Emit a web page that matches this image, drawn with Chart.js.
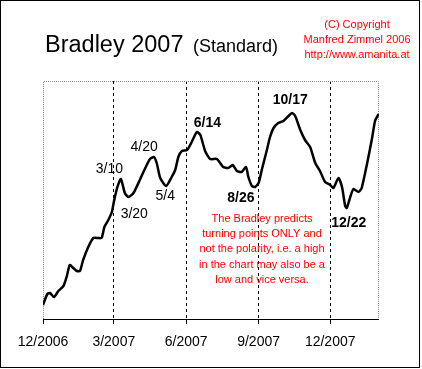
<!DOCTYPE html>
<html>
<head>
<meta charset="utf-8">
<script src="https://cdn.jsdelivr.net/npm/chart.js@4/dist/chart.umd.min.js"></script>
<style>
  html, body { margin: 0; padding: 0; background: #fff; }
  canvas { display: block; }
</style>
</head>
<body>
<canvas id="chart" width="422" height="369"></canvas>
<script>
// Bradley siderograph 2007 - x = days after 1 Dec 2006, y = index
const days = [0, 5.5, 9, 14, 19.5, 26, 30, 34, 38.5, 43, 47, 51, 57.5, 64, 70, 74.5, 78, 83, 87.5, 90,
  94.5, 99, 104, 108.5, 115, 123, 130, 136, 141, 144.5, 149, 156.5, 163.5, 168, 172, 176.5, 183, 189,
  195.5, 200, 206, 212.5, 221, 229, 235.5, 241, 246.5, 252.5, 258, 261, 265.5, 269.5, 274, 278, 284.5,
  288.5, 293, 299, 305.5, 312, 316.5, 320.5, 327, 333, 339.5, 346, 352, 358.5, 365, 369, 375.5, 380,
  384, 386, 390.5, 394.5, 401, 405, 411.5, 418, 422, 426.5];
const values = [14, 25, 26, 22, 28, 33, 42, 54, 51, 48, 48, 59, 72, 81, 81, 81, 92, 99, 107, 117,
  132, 140, 126, 122, 126, 139, 151, 160, 162, 156, 141, 133, 142, 149, 162, 168, 169, 177,
  187, 184, 168, 160, 160, 152, 151, 154, 148, 147, 152, 142, 133, 132, 136, 149, 169,
  182, 191, 196, 198, 203, 206, 203, 189, 179, 172, 156, 148, 137, 134, 131, 141, 132,
  113, 111, 122, 130, 127, 131, 154, 180, 198, 205];

const tickDays = [0, 90, 182, 274, 365];
const tickLabels = ['12/2006', '3/2007', '6/2007', '9/2007', '12/2007'];

const turnLabels = ['3/10', '3/20', '4/20', '5/4', '6/14', '8/26', '10/17', '12/22'];
const turnDays = [99, 109, 140, 154, 195, 268, 320, 386];

const noteLines = ['The Bradley predicts', 'turning points ONLY and', 'not the polarity, i.e. a high',
  'in the chart may also be a', 'low and vice versa.'];
const copyLines = ['(C) Copyright', 'Manfred Zimmel 2006', 'http://www.amanita.at'];

function valueAt(d) {
  for (let i = 1; i < days.length; i++) {
    if (days[i] >= d) {
      const t = (d - days[i - 1]) / (days[i] - days[i - 1]);
      return values[i - 1] + t * (values[i] - values[i - 1]);
    }
  }
  return values[values.length - 1];
}

// frame, title and notes
const decor = {
  id: 'decor',
  beforeDatasetsDraw(chart) {
    const { ctx, chartArea: a } = chart;
    ctx.save();
    ctx.strokeStyle = '#888';
    ctx.lineWidth = 1;
    ctx.setLineDash([1, 1]);
    ctx.beginPath();
    ctx.moveTo(a.left + 0.5, a.bottom);
    ctx.lineTo(a.left + 0.5, a.top + 0.5);
    ctx.lineTo(a.right - 0.5, a.top + 0.5);
    ctx.lineTo(a.right - 0.5, a.bottom);
    ctx.stroke();
    ctx.setLineDash([]);
    ctx.strokeStyle = '#000';
    ctx.beginPath();
    ctx.moveTo(a.left, Math.round(a.bottom) + 0.5);
    ctx.lineTo(a.right, Math.round(a.bottom) + 0.5);
    ctx.stroke();
    ctx.restore();
  },
  afterDraw(chart) {
    const { ctx, scales: { x, y } } = chart;
    ctx.save();
    // outer frame
    ctx.strokeStyle = '#000';
    ctx.lineWidth = 1;
    ctx.strokeRect(0.5, 0.5, 419, 367);

    ctx.fillStyle = '#000';
    ctx.textBaseline = 'alphabetic';
    ctx.textAlign = 'left';
    ctx.font = '23.5px Arial, "Liberation Sans", sans-serif';
    ctx.fillText('Bradley 2007', 45, 52);
    ctx.font = '18px Arial, "Liberation Sans", sans-serif';
    ctx.fillText('(Standard)', 193, 52);

    ctx.fillStyle = '#f00';
    ctx.textAlign = 'center';
    ctx.textBaseline = 'middle';
    ctx.font = '11px Arial, "Liberation Sans", sans-serif';
    copyLines.forEach((s, i) => ctx.fillText(s, 357, 25 + i * 15));
    noteLines.forEach((s, i) => ctx.fillText(s, 262, 219 + i * 15.2));

    // turning point labels, offset from the curve
    const offs = [[-11.5, -10], [5.5, 17], [-9, -10], [1, 13], [11, -10], [-13, 12], [-4.5, -15], [2, 15]];
    ctx.fillStyle = '#000';
    turnLabels.forEach((s, i) => {
      const bold = i >= 4;
      ctx.font = (bold ? 'bold ' : '') + '14px Arial, "Liberation Sans", sans-serif';
      const px = x.getPixelForValue(turnDays[i]) + offs[i][0];
      const py = y.getPixelForValue(valueAt(turnDays[i])) + offs[i][1];
      ctx.fillText(s, px, py);
    });
    ctx.restore();
  }
};

new Chart(document.getElementById('chart'), {
  type: 'line',
  data: {
    datasets: [{
      data: days.map((d, i) => ({ x: d, y: values[i] })),
      borderColor: '#000',
      borderWidth: 2.5,
      pointRadius: 0,
      tension: 0.2,
      fill: false
    }]
  },
  options: {
    responsive: false,
    animation: false,
    layout: { padding: { left: 43, right: 43, top: 81, bottom: 0 } },
    plugins: { legend: { display: false }, tooltip: { enabled: false } },
    scales: {
      x: {
        type: 'linear',
        min: 0,
        max: 427,
        afterBuildTicks: s => { s.ticks = tickDays.map(v => ({ value: v })); },
        afterFit: s => { s.height = 50; },
        border: { display: false, dash: [3, 3] },
        grid: {
          color: c => (c.index === 0 ? 'rgba(0,0,0,0)' : '#000'),
          tickColor: '#000',
          tickLength: 5,
          tickBorderDash: [],
          lineWidth: 1
        },
        ticks: {
          color: '#000',
          padding: 10,
          maxRotation: 0,
          font: { family: 'Arial, "Liberation Sans", sans-serif', size: 14 },
          callback: (v, i) => tickLabels[i]
        }
      },
      y: { display: false, min: 0, max: 238 }
    }
  },
  plugins: [decor]
});
</script>
</body>
</html>
